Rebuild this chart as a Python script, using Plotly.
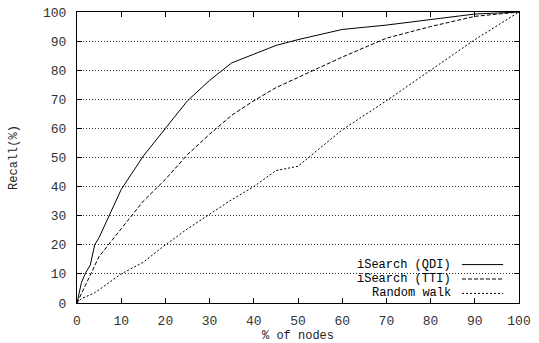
import plotly.graph_objects as go

# ---- data ----
series_names = ["iSearch (QDI)", "iSearch (TTI)", "Random walk"]

qdi_x = [0, 1, 2, 3, 4, 5, 10, 15, 20, 25, 30, 35, 40, 45, 50, 60, 70, 80, 90, 100]
qdi_y = [0, 7, 10.5, 13, 20, 22.5, 39, 50.5, 60, 69.5, 76.5, 82.5, 85.5, 88.5, 90.5, 94, 95.5, 97.5, 99.3, 100]

tti_x = [0, 5, 10, 15, 20, 25, 30, 35, 40, 45, 50, 60, 70, 80, 90, 100]
tti_y = [0, 16, 25.5, 35, 42.5, 51, 58, 64.5, 69.5, 74, 77.5, 84.5, 91, 95, 98.5, 100]

rw_x = [0, 1, 4, 10, 15, 20, 25, 30, 35, 40, 45, 50, 60, 70, 80, 90, 100]
rw_y = [0, 1.5, 3.5, 10, 14, 20, 25.5, 30.5, 35.5, 40, 45.5, 47, 59.5, 69.5, 80, 90.5, 100]

x_ticks = [0, 10, 20, 30, 40, 50, 60, 70, 80, 90, 100]
y_ticks = [0, 10, 20, 30, 40, 50, 60, 70, 80, 90, 100]

x_title = "% of nodes"
y_title = "Recall(%)"

FONT = "Liberation Mono, Courier New, monospace"
dashes = ["solid", "4px,2px", "2px,2px"]

fig = go.Figure()
for name, xs, ys, d in zip(series_names, [qdi_x, tti_x, rw_x], [qdi_y, tti_y, rw_y], dashes):
    fig.add_trace(go.Scatter(x=xs, y=ys, mode="lines", name=name,
                             line=dict(color="black", width=1, dash=d),
                             showlegend=False))

# custom legend (text left, sample right, like gnuplot)
rows_y = [0.132, 0.0825, 0.033]
for name, d, yy in zip(series_names, dashes, rows_y):
    fig.add_annotation(x=0.848, y=yy, xref="paper", yref="paper", text=name,
                       showarrow=False, xanchor="right", yanchor="middle", borderpad=0,
                       font=dict(family=FONT, size=12, color="black"))
    fig.add_shape(type="line", xref="paper", yref="paper",
                  x0=0.871, x1=0.964, y0=yy, y1=yy,
                  line=dict(color="black", width=1, dash=d))

axis_common = dict(
    showline=True, linecolor="black", linewidth=1, mirror="allticks",
    ticks="inside", ticklen=5, tickcolor="black", tickwidth=1,
    tickfont=dict(family=FONT, size=13, color="#333"),
    zeroline=False, automargin=False,
)

fig.update_xaxes(range=[0, 100], tickvals=x_ticks, ticktext=[str(v) for v in x_ticks],
                 showgrid=False, ticklabelstandoff=5,
                 title=dict(text=x_title, font=dict(family=FONT, size=12, color="#222"), standoff=4),
                 **axis_common)
fig.update_yaxes(range=[0, 100], tickvals=y_ticks, ticktext=[str(v) for v in y_ticks],
                 showgrid=True, gridcolor="#333", gridwidth=1, griddash="1px,2px",
                 ticklabelstandoff=7,
                 title=dict(text=y_title, font=dict(family=FONT, size=12, color="#222"), standoff=22),
                 **axis_common)

fig.update_layout(
    width=539, height=343,
    margin=dict(l=77, r=20, t=12, b=40),
    paper_bgcolor="white", plot_bgcolor="white",
    font=dict(family=FONT, size=13, color="black"),
)

# remove the page's default 8px body margin so the figure fills the window
fig.write_html("out.html", config={"displayModeBar": False},
               post_script="document.body.style.margin='0';document.body.style.overflow='hidden';")
